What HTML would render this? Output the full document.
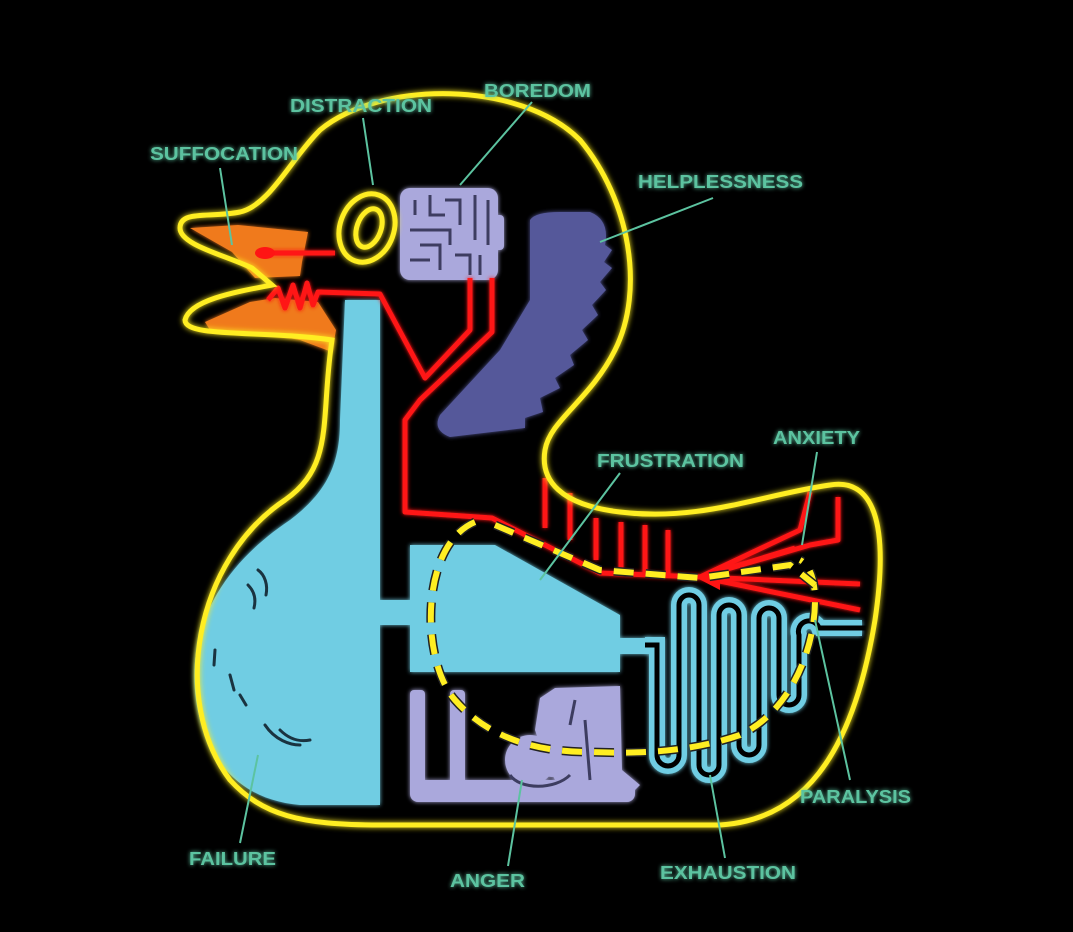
<!DOCTYPE html>
<html><head><meta charset="utf-8"><style>
html,body{margin:0;padding:0;background:#000;}
svg{display:block}
text{font-family:"Liberation Sans Narrow","Liberation Sans",sans-serif;font-weight:bold;font-size:18px;fill:#5cc3a0}
</style></head><body>
<svg width="1073" height="932" viewBox="0 0 1073 932" xmlns="http://www.w3.org/2000/svg">
<defs>
<filter id="g" x="-20%" y="-20%" width="140%" height="140%"><feGaussianBlur stdDeviation="3" result="b"/><feMerge><feMergeNode in="b"/><feMergeNode in="SourceGraphic"/></feMerge></filter>
<filter id="s" x="-20%" y="-20%" width="140%" height="140%"><feGaussianBlur stdDeviation="2" result="b"/><feMerge><feMergeNode in="b"/><feMergeNode in="SourceGraphic"/></feMerge></filter>
</defs>
<rect width="1073" height="932" fill="#000"/>

<!-- light blue body -->
<g filter="url(#s)" fill="#6fcde3">
<path d="M345 300 L380 300 L380 805 L300 805 C240 800 205 760 196 700 C185 620 230 560 290 520 C330 490 340 460 340 420 Z"/>
<rect x="378" y="600" width="34" height="25"/>
<path d="M410 545 L495 545 L620 615 L620 672 L410 672 Z"/>
<rect x="618" y="638" width="32" height="16"/>
</g>
<!-- bulge marks -->
<g fill="none" stroke="#1a3340" stroke-width="3" stroke-linecap="round">
<path d="M258 570 C265 575 268 585 266 595"/><path d="M248 585 C255 592 256 600 254 608"/>
<path d="M215 650 L214 665"/><path d="M230 675 L234 690"/><path d="M240 695 L246 705"/>
<path d="M265 725 C275 740 290 745 300 745"/><path d="M280 730 C290 740 300 742 310 740"/>
</g>

<!-- coil -->
<path d="M645 645 L657 645 L657 755 A11 11 0 0 0 679 755 L679 605 A10 10 0 0 1 699 605 L699 765 A10 10 0 0 0 719 765 L719 615 A10 10 0 0 1 739 615 L739 745 A10 10 0 0 0 759 745 L759 618 A10 10 0 0 1 779 618 L779 695 A10 10 0 0 0 799 695 L799 635 A10 10 0 0 1 819 628 L862 628" fill="none" stroke="#6fcde3" stroke-width="16" filter="url(#s)"/>
<path d="M645 645 L657 645 L657 755 A11 11 0 0 0 679 755 L679 605 A10 10 0 0 1 699 605 L699 765 A10 10 0 0 0 719 765 L719 615 A10 10 0 0 1 739 615 L739 745 A10 10 0 0 0 759 745 L759 618 A10 10 0 0 1 779 618 L779 695 A10 10 0 0 0 799 695 L799 635 A10 10 0 0 1 819 628 L866 628" fill="none" stroke="#000" stroke-width="5"/>

<!-- anger purple -->
<g fill="#aaa8dc" filter="url(#s)">
<rect x="410" y="690" width="15" height="105" rx="4"/>
<rect x="450" y="690" width="15" height="100" rx="4"/>
<rect x="410" y="780" width="225" height="22" rx="8"/>
<path d="M540 698 L555 688 L620 686 L622 770 L640 785 L630 795 L560 790 L545 760 L535 730 Z"/>
<circle cx="530" cy="760" r="25"/><circle cx="552" cy="755" r="22"/>
</g>
<g fill="none" stroke="#3d3d60" stroke-width="3"><path d="M510 775 C520 790 555 790 570 775"/><path d="M575 700 L570 725"/><path d="M585 720 L590 780"/></g>

<!-- helplessness -->
<path d="M530 220 Q535 212 560 212 L590 212 Q610 220 605 245 L612 250 L604 262 L612 268 L600 282 L606 290 L592 305 L598 315 L582 330 L588 340 L570 355 L574 365 L555 378 L560 388 L540 398 L543 412 L525 418 L525 428 L450 437 Q432 430 440 415 L500 350 L530 300 Z" fill="#55589a" filter="url(#s)"/>

<!-- brain -->
<g filter="url(#s)"><rect x="400" y="188" width="98" height="92" rx="10" fill="#aaa8dc"/><rect x="492" y="215" width="12" height="35" rx="4" fill="#aaa8dc"/></g>
<g fill="none" stroke="#3d3d60" stroke-width="3">
<path d="M415 200 L415 215 M430 195 L430 215 L445 215 M445 200 L460 200 L460 225 M475 195 L475 240 M488 200 L488 245 M410 230 L450 230 L450 245 M420 245 L440 245 L440 270 M455 255 L470 255 L470 275 M410 260 L430 260 M480 255 L480 275"/>
</g>

<!-- beak -->
<g fill="#f07a1e" filter="url(#s)">
<path d="M190 228 L238 225 L308 232 L302 262 L300 276 L255 278 L232 252 Z"/>
<path d="M205 322 L250 302 L275 298 L318 302 L336 330 L332 352 L300 340 L255 332 L210 330 Z"/>
</g>

<!-- red lines -->
<g fill="none" stroke="#ff1414" stroke-width="5" stroke-linejoin="round" filter="url(#s)">
<path d="M265 253 L335 253"/>
<path d="M268 300 L278 288 L285 308 L293 285 L300 308 L307 283 L313 305 L318 292 L380 294 L425 378 L470 330 L470 278"/>
<path d="M492 278 L492 332 L420 400 L405 420 L405 512 L492 518 L600 573 L700 577"/>
<path d="M545 478 L545 528 M570 493 L570 540 M596 518 L596 560 M621 522 L621 570 M645 525 L645 575 M668 530 L668 577"/>
<path d="M700 577 L800 530 L810 492 M700 577 L810 545 L838 540 L838 497 M700 577 L860 584 M700 577 L860 610 M700 577 L795 548"/>
</g>
<ellipse cx="265" cy="253" rx="10" ry="6" fill="#ff1414"/>
<path d="M695 577 L720 565 L720 590 Z" fill="#ff1414"/>

<!-- yellow outline -->
<path d="M332 340 C320 420 335 465 285 500 C195 560 170 700 230 780 C262 815 300 825 380 825 L720 825 C800 820 852 760 875 620 C890 520 872 478 830 485 C760 495 700 522 620 512 C560 505 540 480 545 450 C550 420 590 400 615 350 C645 290 630 200 580 140 C520 80 380 80 320 130 C290 160 270 205 240 212 C210 218 180 210 180 228 C180 245 225 255 252 268 L272 285 C235 292 190 300 185 320 C185 338 262 330 332 340 Z" fill="none" stroke="#ffee22" stroke-width="5" filter="url(#g)"/>
<g fill="none" stroke="#ffee22" stroke-width="5" filter="url(#g)">
<ellipse cx="367" cy="228" rx="27" ry="35" transform="rotate(20 367 228)"/>
<ellipse cx="369" cy="228" rx="12" ry="20" transform="rotate(20 369 228)"/>
</g>

<!-- dashed -->
<g fill="none" stroke-linecap="butt">
<path id="d1" d="M475 522 C420 545 420 660 455 700 C490 740 540 752 590 752 C640 754 690 752 740 735 C790 712 815 650 815 600 C815 580 810 565 800 560"/>
<path id="d2" d="M495 525 L600 570 L700 578 L790 565 L815 585"/>
</g>
<use href="#d1" stroke="#222" stroke-width="9" fill="none" stroke-dasharray="20 12"/>
<use href="#d1" stroke="#ffee22" stroke-width="6" fill="none" stroke-dasharray="20 12"/>
<use href="#d2" stroke="#222" stroke-width="9" fill="none" stroke-dasharray="20 12"/>
<use href="#d2" stroke="#ffee22" stroke-width="6" fill="none" stroke-dasharray="20 12"/>

<!-- leaders -->
<g stroke="#5cc3a0" stroke-width="2" fill="none">
<path d="M220 168 L232 245"/><path d="M363 118 L373 185"/><path d="M532 102 L460 185"/>
<path d="M713 198 L600 242"/><path d="M620 473 L540 580"/><path d="M817 452 L802 545"/>
<path d="M850 780 L815 620"/><path d="M725 858 L710 775"/><path d="M508 866 L522 780"/>
<path d="M240 843 L258 755"/>
</g>

<!-- labels -->
<g filter="url(#s)">
<text x="150" y="160" textLength="148" lengthAdjust="spacingAndGlyphs">SUFFOCATION</text>
<text x="290" y="112" textLength="142" lengthAdjust="spacingAndGlyphs">DISTRACTION</text>
<text x="484" y="97" textLength="107" lengthAdjust="spacingAndGlyphs">BOREDOM</text>
<text x="638" y="188" textLength="165" lengthAdjust="spacingAndGlyphs">HELPLESSNESS</text>
<text x="597" y="467" textLength="147" lengthAdjust="spacingAndGlyphs">FRUSTRATION</text>
<text x="773" y="444" textLength="87" lengthAdjust="spacingAndGlyphs">ANXIETY</text>
<text x="800" y="803" textLength="111" lengthAdjust="spacingAndGlyphs">PARALYSIS</text>
<text x="660" y="879" textLength="136" lengthAdjust="spacingAndGlyphs">EXHAUSTION</text>
<text x="450" y="887" textLength="75" lengthAdjust="spacingAndGlyphs">ANGER</text>
<text x="189" y="865" textLength="87" lengthAdjust="spacingAndGlyphs">FAILURE</text>
</g>
</svg>
</body></html>
